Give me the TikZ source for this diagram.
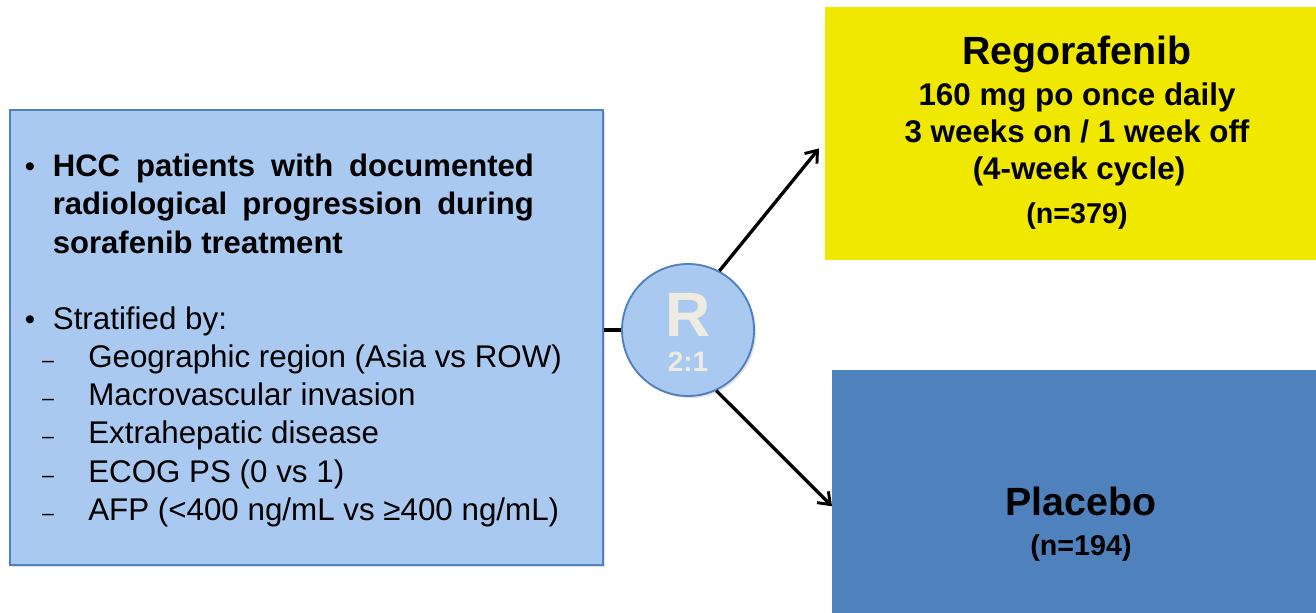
\documentclass[tikz,border=0pt]{standalone}
\usepackage{fontspec}
\setmainfont{Liberation Sans}
\usetikzlibrary{arrows.meta,shadows}
\definecolor{boxblue}{HTML}{A9C9F0}
\definecolor{edgeblue}{HTML}{4F81BD}
\definecolor{armblue}{HTML}{4F81BD}
\definecolor{armyellow}{HTML}{F0E800}
\definecolor{rtext}{HTML}{EEECE1}
\tikzset{
  softshadow/.style={drop shadow={opacity=0.25,shadow xshift=1.5pt,shadow yshift=-1.5pt}},
  leftbox/.style={draw=edgeblue, line width=1.5pt, fill=boxblue, softshadow, anchor=north west},
  armbox/.style={anchor=north west, inner sep=0pt},
  bulletmark/.style={anchor=base, inner sep=0pt, font=\fontsize{22}{22}\selectfont},
  dashmark/.style={anchor=base, inner sep=0pt, font=\fontsize{16}{16}\selectfont},
  inclusion/.style={anchor=base west, inner sep=0pt, text width=481*0.75pt, align=justify,
    font=\fontsize{23.3}{28.9}\selectfont\bfseries, execute at begin node={\tolerance=9999\hyphenpenalty=10000}},
  strat/.style={anchor=base west, inner sep=0pt, font=\fontsize{23.5}{28}\selectfont},
  randnode/.style={circle, draw=edgeblue, line width=1.4pt, fill=boxblue, minimum size=132*0.75pt, softshadow},
  armtext/.style={anchor=base, inner sep=0pt, font=\fontsize{23.5}{28}\selectfont\bfseries},
  armtitle/.style={anchor=base, inner sep=0pt, font=\fontsize{29.5}{34}\selectfont\bfseries},
  armcount/.style={anchor=base, inner sep=0pt, font=\fontsize{21.5}{24}\selectfont\bfseries},
  link/.style={line width=2.6pt, black},
  armarrow/.style={line width=2.5pt, black, -{Straight Barb[length=8pt,width=12pt,line width=2.2pt]}}
}
\begin{document}
\begin{tikzpicture}[x=0.75pt, y=-0.75pt]
    \useasboundingbox (0,0) rectangle (1316,613);
    \clip (0,0) rectangle (1316,613);
    % patient population
    \node[leftbox, minimum width=593*0.75pt, minimum height=455*0.75pt] (pts) at (9,109) {};
    \node[bulletmark] (bul1) at (30,176) {\textbullet};
    \node[inclusion] (incl) at (52.6,176) {HCC patients with documented radiological progression during sorafenib treatment};
    \node[bulletmark] (bul2) at (30,329) {\textbullet};
    \node[strat] (strat) at (52.6,329) {Stratified by:};
    \node[dashmark] (dash1) at (48,367) {\textendash};
    \node[strat] (fac1) at (88,367) {Geographic region (Asia vs ROW)};
    \node[dashmark] (dash2) at (48,405) {\textendash};
    \node[strat] (fac2) at (88,405) {Macrovascular invasion};
    \node[dashmark] (dash3) at (48,443) {\textendash};
    \node[strat] (fac3) at (88,443) {Extrahepatic disease};
    \node[dashmark] (dash4) at (48,482) {\textendash};
    \node[strat] (fac4) at (88,482) {ECOG PS (0 vs 1)};
    \node[dashmark] (dash5) at (48,520) {\textendash};
    \node[strat] (fac5) at (88,520) {AFP (<400 ng/mL vs ≥400 ng/mL)};
    % randomisation
    \node[randnode] (rand) at (688,330) {};
    \node[anchor=base, inner sep=0pt, text=rtext, font=\fontsize{47}{47}\selectfont\bfseries] (randR) at (688,336) {R};
    \node[anchor=base, inner sep=0pt, text=rtext, font=\fontsize{21}{21}\selectfont\bfseries] (ratio) at (688,371) {2:1};
    % treatment arms
    \node[armbox, fill=armyellow, minimum width=495*0.75pt, minimum height=253*0.75pt] (reg) at (825,7) {};
    \node[armtitle] (regname) at (1077,65) {Regorafenib};
    \node[armtext] (regdose) at (1077,106) {160 mg po once daily};
    \node[armtext] (regsched) at (1077,143) {3 weeks on / 1 week off};
    \node[armtext] (regcycle) at (1079,180) {(4-week cycle)};
    \node[armcount] (regn) at (1077,223) {(n=379)};
    \node[armbox, fill=armblue, minimum width=500*0.75pt, minimum height=264*0.75pt] (pla) at (832,370) {};
    \node[armtitle] (planame) at (1081,515) {Placebo};
    \node[armcount] (plan) at (1081,555) {(n=194)};
    % connectors
    \draw[link] (rand.west) -- (rand.west -| pts.east);
    \draw[armarrow] (rand.62) -- ([xshift=-4.5pt,yshift=-11pt]reg.west);
    \draw[armarrow] (rand.-65) -- ([yshift=-3pt]pla.west);
\end{tikzpicture}
\end{document}
